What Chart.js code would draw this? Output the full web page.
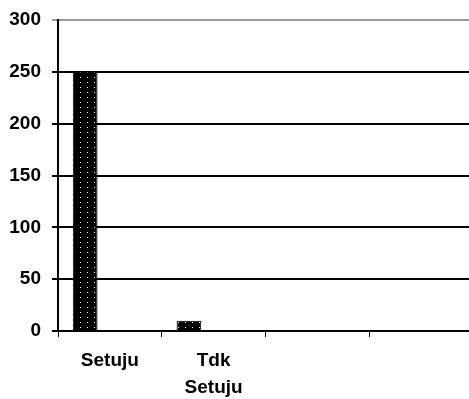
<!DOCTYPE html>
<html>
<head>
<meta charset="utf-8">
<script src="https://cdn.jsdelivr.net/npm/chart.js@4"></script>
<style>
  html, body { margin: 0; padding: 0; background: #fff; overflow: hidden; }
  #wrap { width: 469px; height: 399px; overflow: hidden; }
</style>
</head>
<body>
<div id="wrap"><canvas id="chart" width="473" height="399"></canvas></div>
<script>
// data
var categories = ['Setuju', ['Tdk', 'Setuju'], '', ''];
var seriesValues = [250, 10, null, null];
var emptySeries = [null, null, null, null];
var yTicks = [0, 50, 100, 150, 200, 250, 300];

// black fill with small white dots, like the old excel pattern
function dotPattern() {
    var c = document.createElement('canvas');
    c.width = 7; c.height = 5;
    var g = c.getContext('2d');
    g.fillStyle = '#000';
    g.fillRect(0, 0, 7, 5);
    g.fillStyle = '#fff';
    g.fillRect(3, 2, 1, 1);
    return g.createPattern(c, 'repeat');
}

var font = { family: '"Liberation Sans", Arial, sans-serif', size: 19, weight: 'bold', lineHeight: 1.42 };
var ctx = document.getElementById('chart').getContext('2d');

new Chart(ctx, {
    type: 'bar',
    data: {
        labels: categories,
        datasets: [
            { data: seriesValues, backgroundColor: dotPattern(), borderColor: '#000', borderWidth: 1 },
            { data: emptySeries },
            { data: emptySeries }
        ]
    },
    options: {
        responsive: false,
        animation: false,
        devicePixelRatio: 1,
        categoryPercentage: 0.714,
        barPercentage: 1,
        layout: { padding: { top: 20, right: 0, left: 0, bottom: 0 } },
        plugins: { legend: { display: false }, tooltip: { enabled: false } },
        scales: {
            x: {
                offset: true,
                grid: { offset: true, drawOnChartArea: false, tickLength: 6, color: '#000', lineWidth: 1 },
                border: { color: '#000', width: 2 },
                ticks: { color: '#000', font: font, padding: 10, maxRotation: 0, autoSkip: false },
                afterFit: function (s) { s.height = 68; s.paddingLeft = 0; s.paddingRight = 0; }
            },
            y: {
                min: 0,
                max: 300,
                afterBuildTicks: function (s) { s.ticks = yTicks.map(function (v) { return { value: v }; }); },
                grid: {
                    tickLength: 6,
                    lineWidth: 2,
                    color: function (c) { return c.tick && c.tick.value === 300 ? '#999' : '#000'; }
                },
                border: { color: '#000', width: 2 },
                ticks: { color: '#000', font: font, padding: 11 },
                afterFit: function (s) { s.width = 58; s.paddingTop = 0; s.paddingBottom = 0; }
            }
        }
    }
});
</script>
</body>
</html>
